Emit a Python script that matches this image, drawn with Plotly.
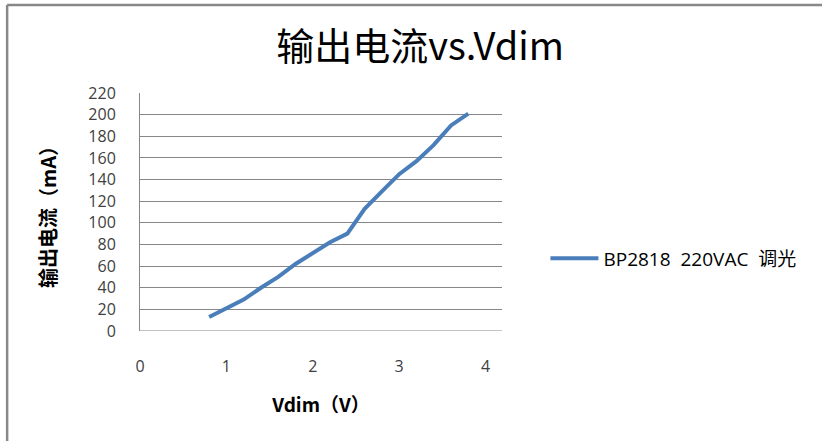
import plotly.graph_objects as go

vdim = [0.8, 1.0, 1.2, 1.4, 1.6, 1.8, 2.0, 2.2, 2.4, 2.6, 2.8, 3.0, 3.2, 3.4, 3.6, 3.8]
current_ma = [13, 21, 29, 40, 50, 62, 72, 82, 90, 113, 129, 145, 157, 172, 190, 201]

x_ticks = [0, 1, 2, 3, 4]
y_ticks = [0, 20, 40, 60, 80, 100, 120, 140, 160, 180, 200, 220]

cjk = "Noto Sans CJK SC"
latin = "Open Sans, Noto Sans CJK SC"
grid = "#878787"
tick_color = "#404040"
border = "#888888"

fig = go.Figure()

fig.add_trace(go.Scatter(
    x=vdim, y=current_ma,
    mode="lines",
    name="BP2818\u00a0\u00a0220VAC\u00a0\u00a0调光",
    line=dict(color="#4a7ebb", width=4),
))

# chart area border: only top and left edges fall inside the image
fig.add_shape(type="line", xref="paper", yref="paper",
              x0=-0.367, x1=2.0, y0=1.37, y1=1.37,
              line=dict(color=border, width=2.5))
fig.add_shape(type="line", xref="paper", yref="paper",
              x0=-0.367, x1=-0.367, y0=1.37, y1=-0.6,
              line=dict(color=border, width=2.5))

fig.update_layout(
    width=822, height=441,
    paper_bgcolor="white",
    plot_bgcolor="white",
    margin=dict(l=140, r=320, t=93, b=110),
    title=dict(
        text="输出电流vs.Vdim",
        x=0.511, xanchor="center",
        y=0.893, yanchor="middle",
        font=dict(family=cjk, size=38, color="#000000"),
    ),
    showlegend=True,
    legend=dict(
        x=1.12, xanchor="left",
        y=0.305, yanchor="middle",
        itemwidth=48,
        font=dict(family=latin, size=19, color="#000000"),
        bgcolor="rgba(0,0,0,0)",
    ),
    xaxis=dict(
        range=[0, 4.19],
        tickvals=x_ticks,
        showgrid=False,
        zeroline=False,
        showline=False,
        ticks="",
        ticklabelstandoff=24,
        tickfont=dict(family=latin, size=16, color=tick_color),
        title=dict(text="<b>Vdim（V）</b>", standoff=22,
                   font=dict(family=cjk, size=19, color="#000000")),
    ),
    yaxis=dict(
        range=[0, 220],
        tickvals=y_ticks,
        showgrid=True,
        gridcolor=grid,
        gridwidth=1,
        zeroline=False,
        showline=True,
        linecolor=grid,
        linewidth=1,
        ticks="",
        ticklabelstandoff=20,
        tickfont=dict(family=latin, size=16, color=tick_color),
        title=dict(text="<b>输出电流（mA）</b>", standoff=26,
                   font=dict(family=cjk, size=20, color="#000000")),
    ),
)

# x axis line at y=0 in the gridline colour
fig.add_hline(y=0, line_color=grid, line_width=1)

fig.write_html("out.html", config={"displayModeBar": False},
               post_script="document.body.style.margin='0';")
